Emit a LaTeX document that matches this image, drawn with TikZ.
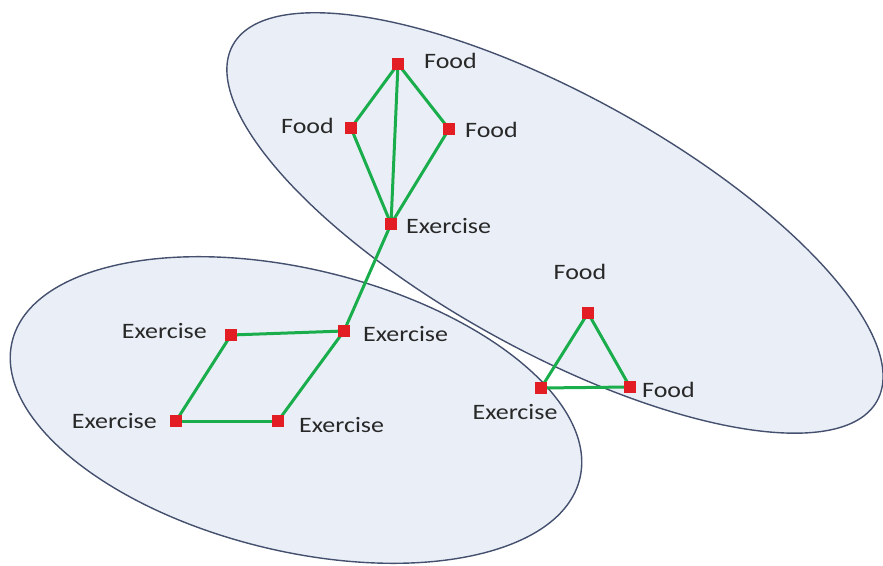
\documentclass[tikz,border=0pt]{standalone}
\usepackage{fontspec}
\setmainfont{Carlito}
\definecolor{efill}{RGB}{234,239,247}
\definecolor{eline}{RGB}{68,80,110}
\definecolor{egreen}{RGB}{26,173,76}
\definecolor{ered}{RGB}{226,30,36}
\definecolor{etext}{RGB}{40,40,40}
\begin{document}
\begin{tikzpicture}[x=1pt,y=-1pt,
  sq/.style={minimum size=11pt, inner sep=0pt, draw=none},
  lbl/.style={inner sep=0pt, text=etext, font=\fontsize{22}{26}\selectfont},
  link/.style={draw=egreen, line width=3pt},
  rim/.style={draw=eline, line width=1.4pt}]
\useasboundingbox (0,0) rectangle (883,565);
\coordinate (cU) at (555,223);
\coordinate (cL) at (296,410);
% fills
\fill[efill, rotate around={-28.9:(cU)}] (cU) ellipse[x radius=368, y radius=128];
\fill[efill, rotate around={-13.6:(cL)}] (cL) ellipse[x radius=292, y radius=141];
\begin{scope}
  \clip[rotate around={-28.9:(cU)}] (cU) ellipse[x radius=368, y radius=128];
  \fill[white, rotate around={-13.6:(cL)}] (cL) ellipse[x radius=292, y radius=141];
\end{scope}
% outlines
\draw[rim, rotate around={-28.9:(cU)}] (cU) ellipse[x radius=368, y radius=128];
\draw[rim, rotate around={-13.6:(cL)}] (cL) ellipse[x radius=292, y radius=141];
% vertices
\node[sq] (F1) at (398,64) {};
\node[sq] (F2) at (351,128) {};
\node[sq] (F3) at (449,129) {};
\node[sq] (E1) at (391,224) {};
\node[sq] (E2) at (344,331) {};
\node[sq] (E3) at (231,335) {};
\node[sq] (E4) at (176,421) {};
\node[sq] (E5) at (278,421) {};
\node[sq] (F4) at (588,313) {};
\node[sq] (E6) at (541,388) {};
\node[sq] (F5) at (630,387) {};
% edges
\draw[link] (F1.center) -- (F2.center);
\draw[link] (F1.center) -- (F3.center);
\draw[link] (F1.center) -- (E1.center);
\draw[link] (F2.center) -- (E1.center);
\draw[link] (F3.center) -- (E1.center);
\draw[link] (E1.center) -- (E2.center);
\draw[link] (E2.center) -- (E3.center);
\draw[link] (E2.center) -- (E5.center);
\draw[link] (E3.center) -- (E4.center);
\draw[link] (E4.center) -- (E5.center);
\draw[link] (F4.center) -- (E6.center);
\draw[link] (F4.center) -- (F5.center);
\draw[link] (E6.center) -- (F5.center);
% red squares on top
\foreach \n in {F1,F2,F3,E1,E2,E3,E4,E5,F4,E6,F5}{
  \fill[ered] (\n.north west) rectangle (\n.south east);
}
% labels
\node[lbl, anchor=west] (tF1) at (424,61) {\scalebox{1.18}[1]{Food}};
\node[lbl, anchor=east] (tF2) at (334,126) {\scalebox{1.18}[1]{Food}};
\node[lbl, anchor=west] (tF3) at (465,130) {\scalebox{1.18}[1]{Food}};
\node[lbl, anchor=west] (tE1) at (406,226) {\scalebox{1.18}[1]{Exercise}};
\node[lbl, anchor=west] (tE2) at (363,334) {\scalebox{1.18}[1]{Exercise}};
\node[lbl, anchor=east] (tE3) at (207,331) {\scalebox{1.18}[1]{Exercise}};
\node[lbl, anchor=east] (tE4) at (157,421) {\scalebox{1.18}[1]{Exercise}};
\node[lbl, anchor=west] (tE5) at (299,425) {\scalebox{1.18}[1]{Exercise}};
\node[lbl] (tF4) at (580,272) {\scalebox{1.18}[1]{Food}};
\node[lbl, anchor=west] (tF5) at (642,390) {\scalebox{1.18}[1]{Food}};
\node[lbl] (tE6) at (515,412) {\scalebox{1.18}[1]{Exercise}};
\end{tikzpicture}
\end{document}
